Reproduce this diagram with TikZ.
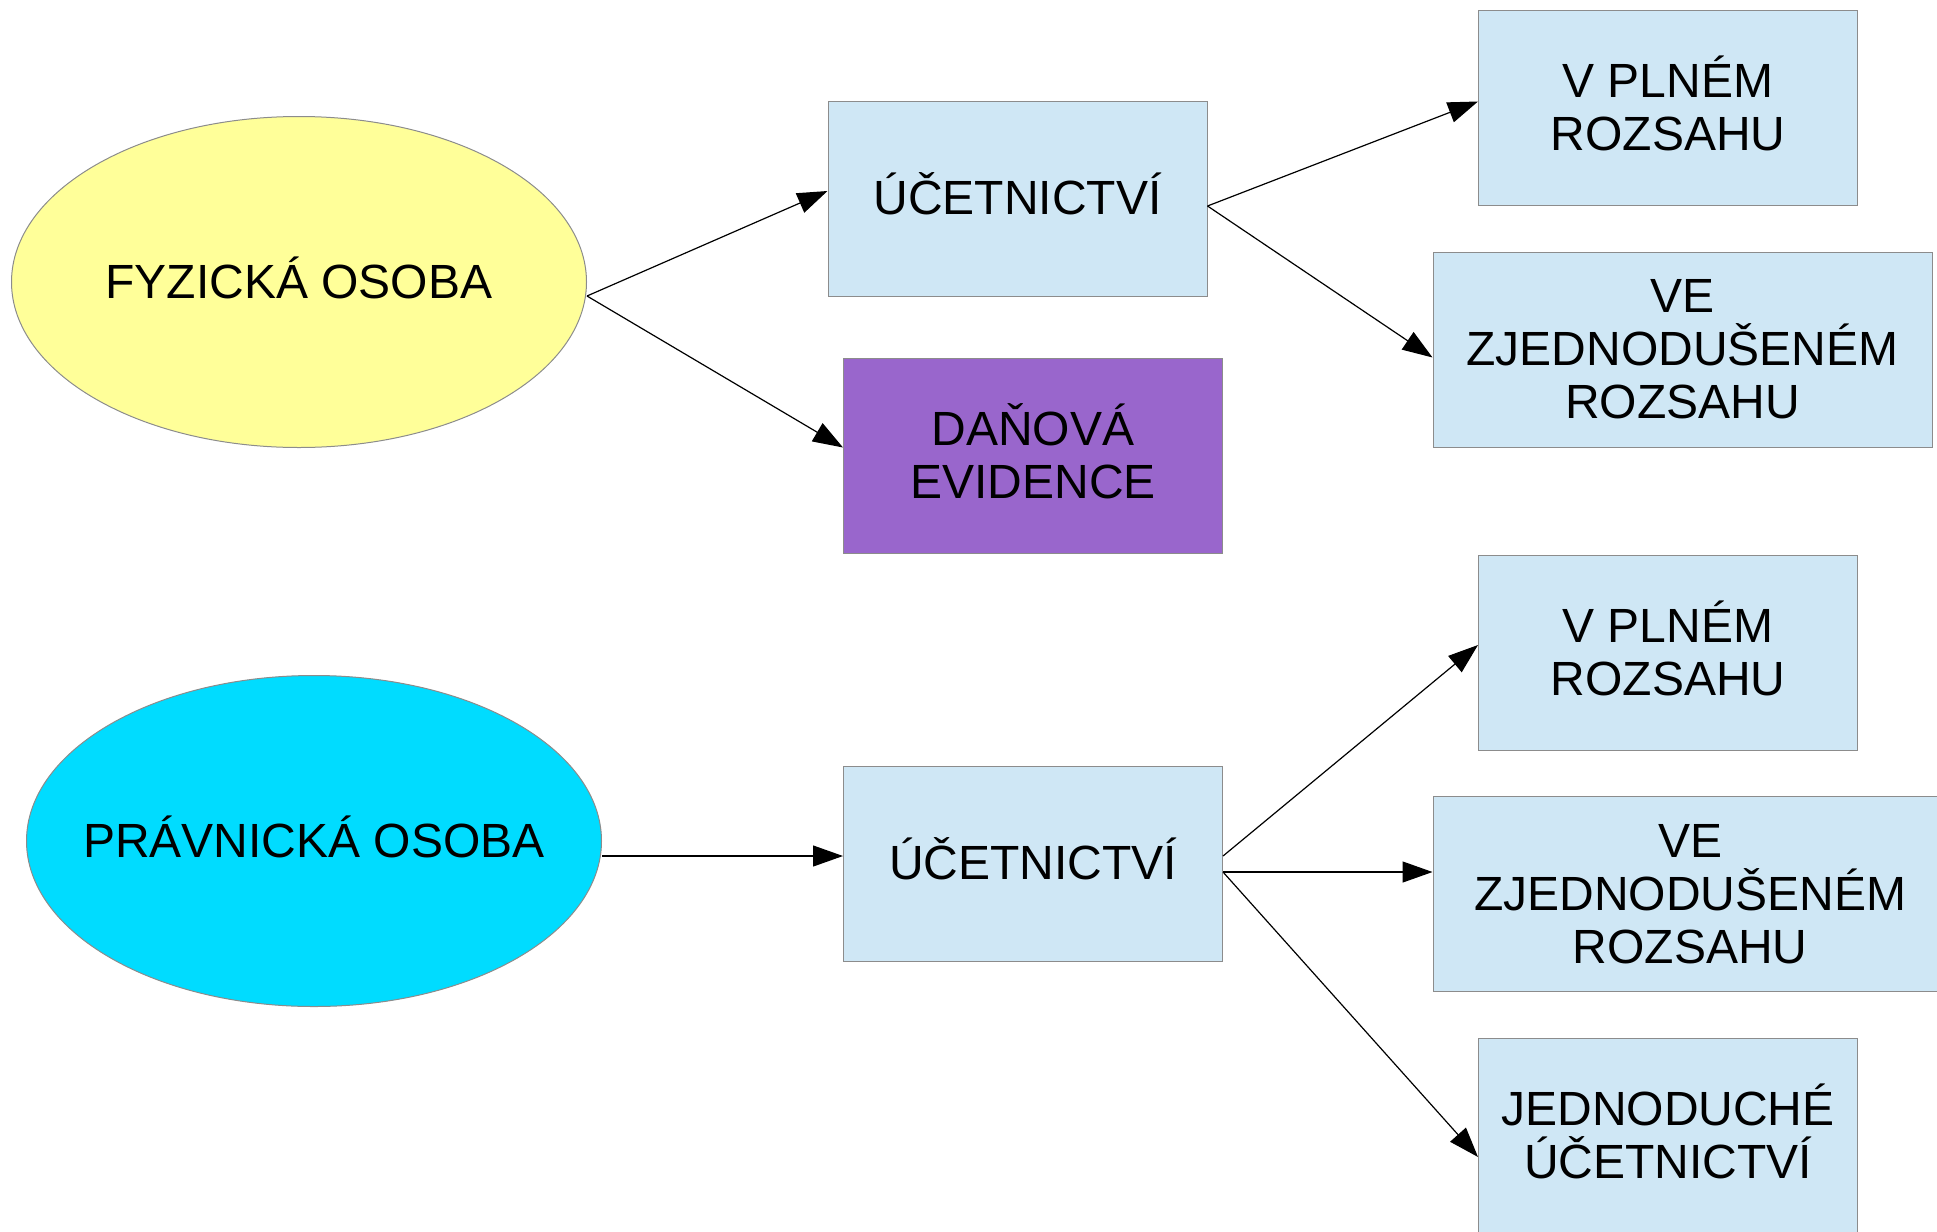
\documentclass[tikz,border=0pt]{standalone}
\usepackage{fontspec}
\setmainfont{Liberation Sans}
\usetikzlibrary{shapes.geometric,arrows.meta}

\begin{document}
\begin{tikzpicture}[x=0.5pt,y=-0.5pt,
    box/.style={draw=myGrey,line width=0.5pt,fill=myBlue,inner sep=0pt,
        minimum width=189.5pt,minimum height=97.5pt,align=center,
        font=\fontsize{24}{26.5}\selectfont},
    oval/.style={ellipse,draw=myGrey,line width=0.5pt,inner ysep=0pt,inner xsep=-20pt,
        minimum width=287.5pt,minimum height=165.5pt,text depth=4.8pt,
        font=\fontsize{24}{26.5}\selectfont},
    lift/.style={text depth=4.8pt},
    conn/.style={line width=0.6pt,-{Triangle[length=15pt,width=10.5pt]}}]
% Colors define
\definecolor{myYellow}{HTML}{FFFF99}
\definecolor{myCyan}{HTML}{00DCFF}
\definecolor{myBlue}{HTML}{CFE7F5}
\definecolor{myPurple}{HTML}{9966CC}
\definecolor{myGrey}{HTML}{8C8C8C}

\useasboundingbox (0,0) rectangle (1937,1231);

% Persons
\node[oval,fill=myYellow] (fo) at (299,282) {FYZICKÁ OSOBA};
\node[oval,fill=myCyan] (po) at (314,841) {PRÁVNICKÁ OSOBA};

% Middle boxes
\node[box,lift] (uc1) at (1017.5,198.5) {ÚČETNICTVÍ};
\node[box,lift,fill=myPurple] (de) at (1033,455.5) {DAŇOVÁ\\EVIDENCE};
\node[box,lift] (uc2) at (1033,863.5) {ÚČETNICTVÍ};

% Right boxes
\node[box,lift] (vp1) at (1668,107.5) {V PLNÉM\\ROZSAHU};
\node[box,minimum width=249.5pt] (vz1) at (1682.5,349.5) {VE\\ZJEDNODUŠENÉM\\ROZSAHU};
\node[box,lift] (vp2) at (1668,652.5) {V PLNÉM\\ROZSAHU};
\node[box,minimum width=257pt] (vz2) at (1690,894) {VE\\ZJEDNODUŠENÉM\\ROZSAHU};
\node[box,lift] (jd) at (1668,1135.5) {JEDNODUCHÉ\\ÚČETNICTVÍ};

% Arrows
\draw[conn] ([yshift=-7pt]fo.east) -- ([yshift=3.75pt]uc1.west);
\draw[conn] ([yshift=-7pt]fo.east) -- ([yshift=4pt]de.west);
\draw[conn] ([yshift=-3.75pt]uc1.east) -- ([yshift=3pt]vp1.west);
\draw[conn] ([yshift=-3.75pt]uc1.east) -- ([yshift=-4pt]vz1.west);
\draw[conn] ([yshift=-7.5pt]po.east) -- ([yshift=3.75pt]uc2.west);
\draw[conn] ([yshift=3.75pt]uc2.east) -- ([yshift=3.75pt]vp2.west);
\draw[conn] ([yshift=-4.25pt]uc2.east) -- ([yshift=11pt]vz2.west);
\draw[conn] ([yshift=-4.25pt]uc2.east) -- ([yshift=-10.75pt]jd.west);
\end{tikzpicture}
\end{document}
